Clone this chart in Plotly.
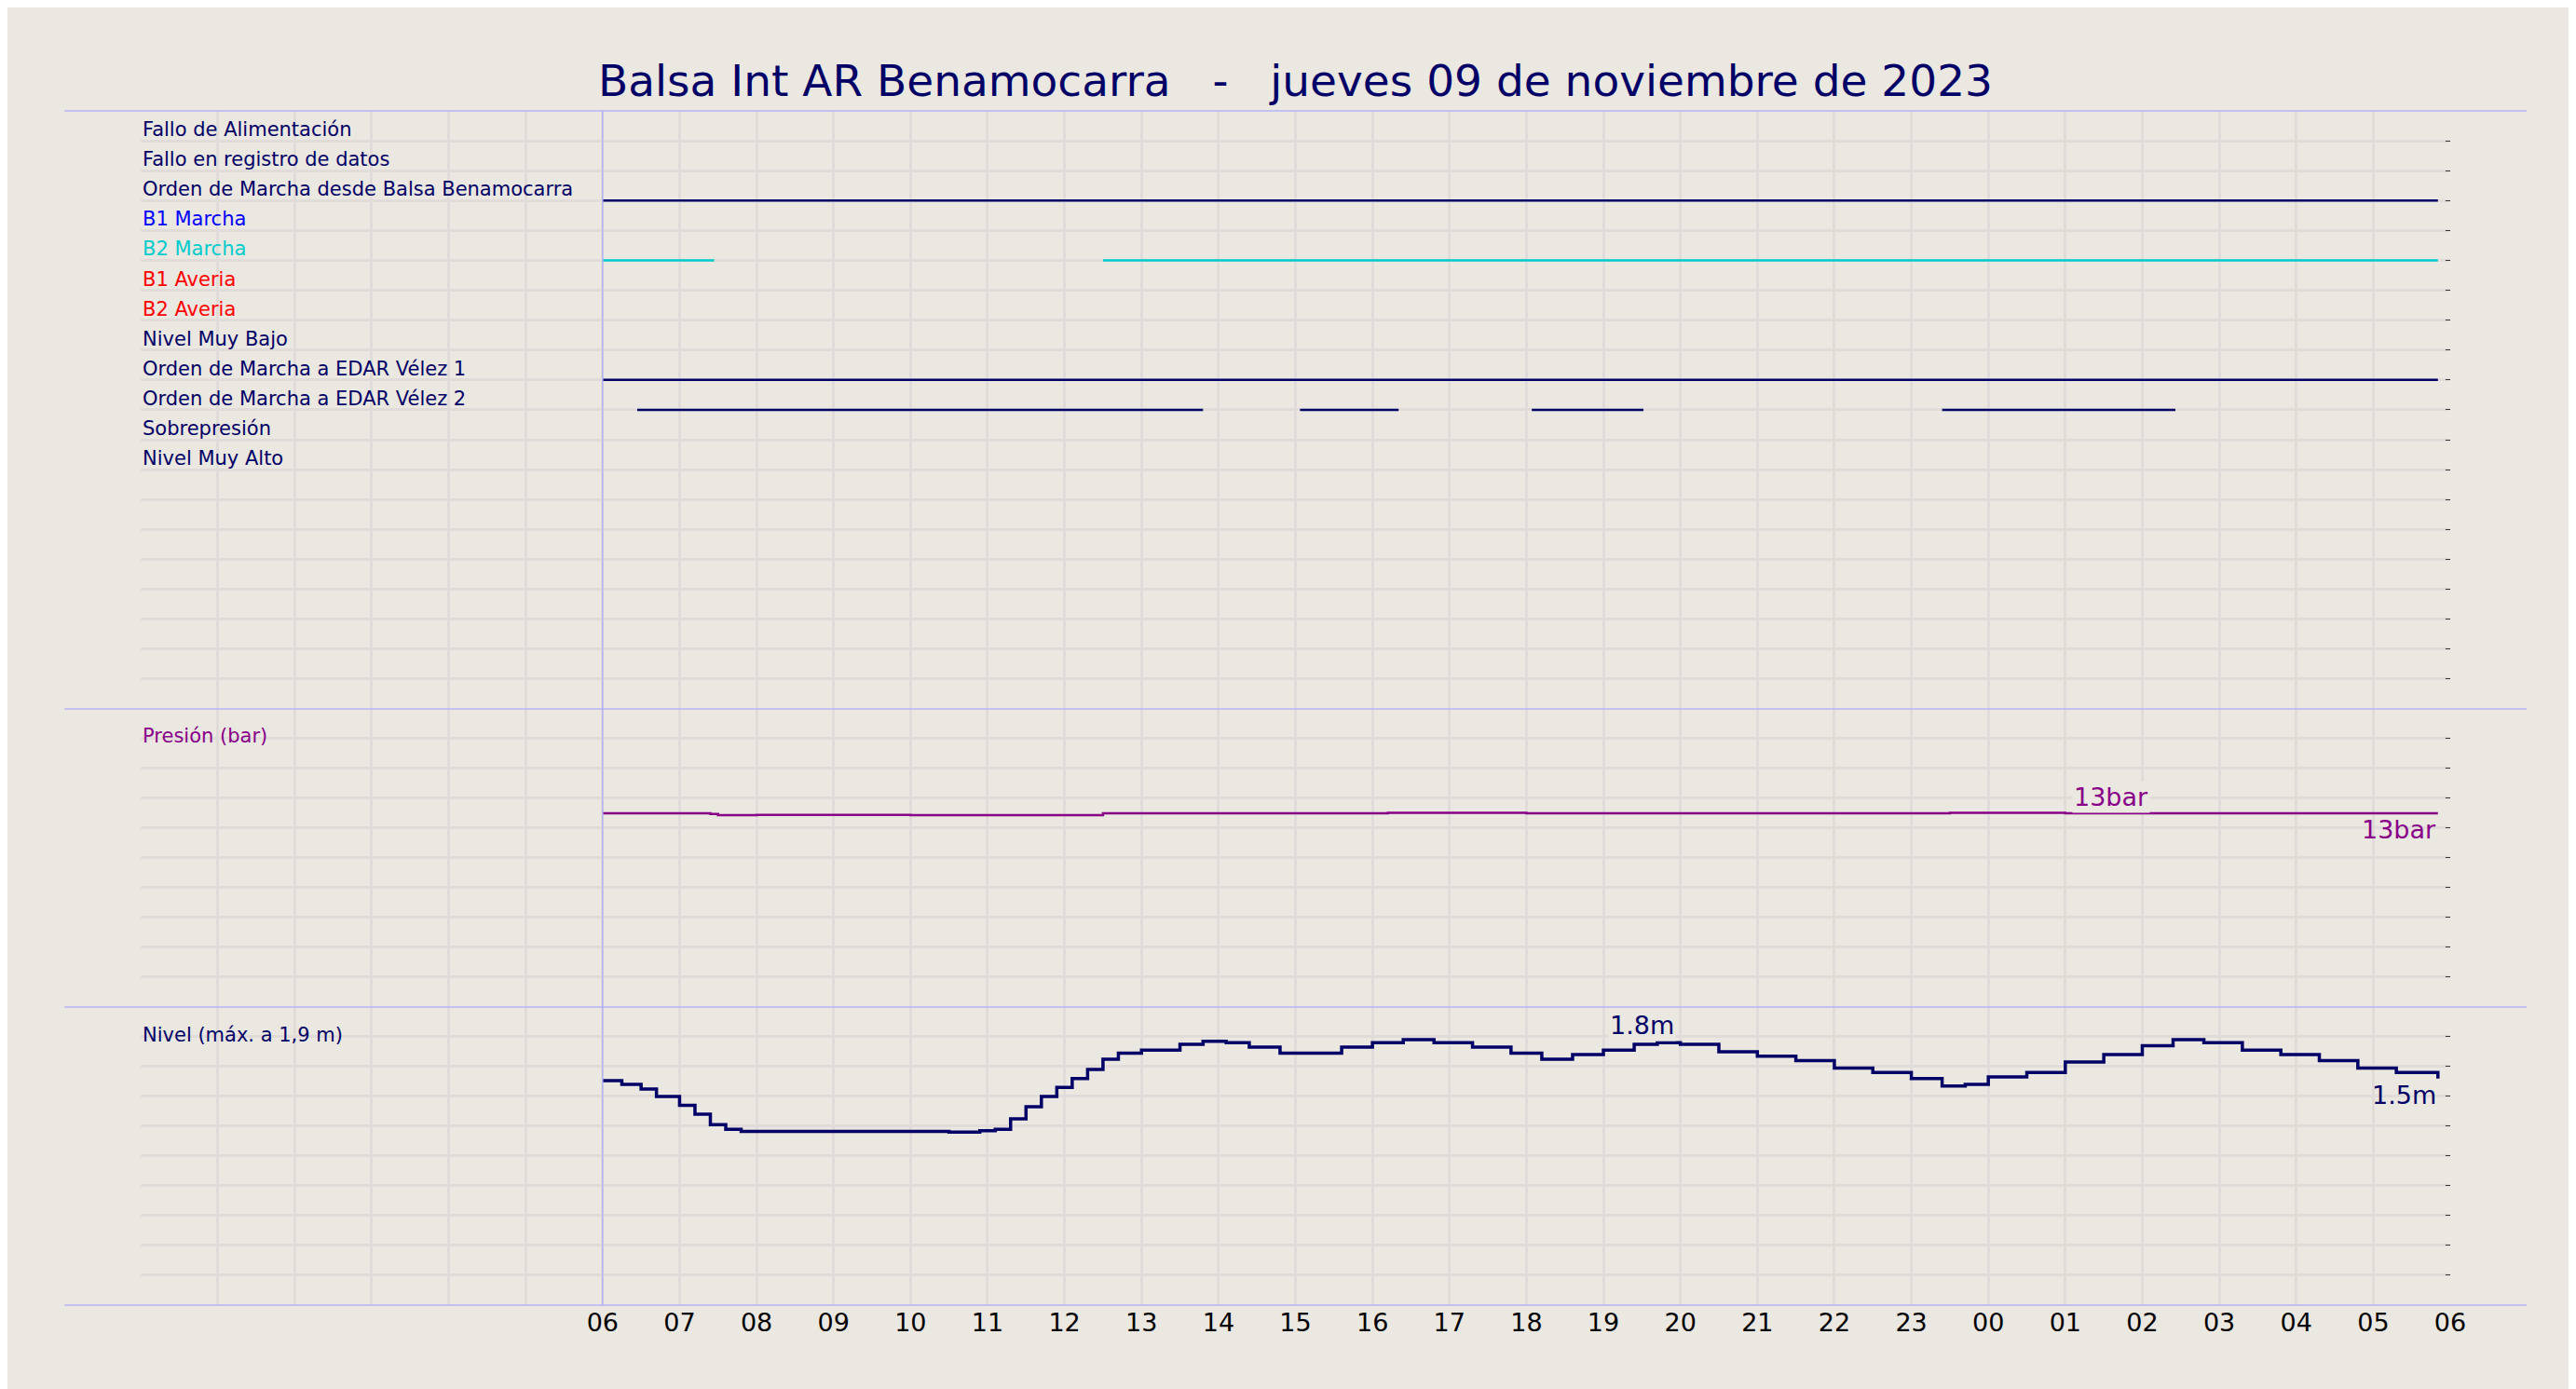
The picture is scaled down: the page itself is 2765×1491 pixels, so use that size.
import plotly.graph_objects as go

# hours since 06:00 of 09-nov-2023
hour_labels = ["06","07","08","09","10","11","12","13","14","15","16","17","18","19","20","21","22","23","00","01","02","03","04","05","06"]

state_names = ["Fallo de Alimentación","Fallo en registro de datos","Orden de Marcha desde Balsa Benamocarra",
               "B1 Marcha","B2 Marcha","B1 Averia","B2 Averia","Nivel Muy Bajo",
               "Orden de Marcha a EDAR Vélez 1","Orden de Marcha a EDAR Vélez 2","Sobrepresión","Nivel Muy Alto"]
state_colors = ["#000066","#000066","#000066","#0000ff","#00cccc","#ff0000","#ff0000","#000066",
                "#000066","#000066","#000066","#000066"]
# active intervals (start, end) in hours since 06:00
state_on = {
    2: [(0.0, 23.84)],
    4: [(0.0, 1.45), (6.5, 23.84)],
    8: [(0.0, 23.84)],
    9: [(0.45, 7.8), (9.06, 10.34), (12.07, 13.52), (17.4, 20.43)],
}

pres_t = [0.0, 1.4, 1.5, 2.0, 3.0, 4.0, 5.0, 6.5, 9.0, 10.2, 12.0, 16.0, 17.5, 19.0, 23.84]
pres_v = [13.0, 12.95, 12.87, 12.88, 12.88, 12.87, 12.87, 13.0, 13.0, 13.02, 12.99, 13.0, 13.02, 13.0, 13.0]

lvl_t = [0.0,0.25,0.5,0.7,1.0,1.2,1.4,1.6,1.8,2.0,4.5,4.9,5.1,5.3,5.5,5.7,5.9,6.1,6.3,6.5,6.7,7.0,7.5,7.8,
         8.1,8.4,8.8,9.2,9.6,10.0,10.4,10.8,11.3,11.8,12.2,12.6,13.0,13.4,13.7,14.0,14.5,15.0,15.5,16.0,
         16.5,17.0,17.4,17.7,18.0,18.5,19.0,19.5,20.0,20.4,20.8,21.3,21.8,22.3,22.8,23.3,23.84]
lvl_v = [1.505,1.48,1.45,1.40,1.34,1.28,1.21,1.18,1.165,1.165,1.16,1.17,1.18,1.25,1.33,1.40,1.46,1.52,1.58,1.65,1.69,1.71,1.75,1.77,
         1.76,1.73,1.69,1.69,1.73,1.76,1.78,1.76,1.73,1.69,1.65,1.68,1.71,1.75,1.76,1.75,1.70,1.67,1.64,1.59,
         1.56,1.52,1.47,1.48,1.53,1.56,1.63,1.68,1.74,1.78,1.76,1.71,1.68,1.64,1.59,1.56,1.52]

BG = "#ebe7e1"; GRID = "#e1dcda"; NAVY = "#000066"; PURPLE = "#880088"; SEP = "#b3b3f5"

fig = go.Figure()
for k, segs in state_on.items():
    for a, b in segs:
        fig.add_trace(go.Scatter(x=[a, b], y=[k + 1, k + 1], mode="lines", yaxis="y",
                                 line=dict(color=state_colors[k], width=2.5), hoverinfo="skip", showlegend=False))
fig.add_trace(go.Scatter(x=pres_t, y=pres_v, mode="lines", line_shape="hv", yaxis="y2",
                         line=dict(color=PURPLE, width=2.5), showlegend=False))
fig.add_trace(go.Scatter(x=lvl_t, y=lvl_v, mode="lines", line_shape="hv", yaxis="y3",
                         line=dict(color=NAVY, width=3.5), showlegend=False))

ann = []
for i, n in enumerate(state_names):
    ann.append(dict(x=-6, y=i + 1, xref="x", yref="y", text=n, showarrow=False, xanchor="left", yanchor="bottom",
                    font=dict(size=21, color=state_colors[i]), yshift=-2))
ann.append(dict(x=-6, y=18.2, xref="x", yref="y2", text="Presión (bar)", showarrow=False, xanchor="left",
                yanchor="middle", font=dict(size=21, color=PURPLE)))
ann.append(dict(x=-6, y=1.81, xref="x", yref="y3", text="Nivel (máx. a 1,9 m)", showarrow=False, xanchor="left",
                yanchor="middle", font=dict(size=21, color=NAVY)))
ann.append(dict(x=19.6, y=13.0, xref="x", yref="y2", text="13bar", showarrow=False, yanchor="bottom",
                font=dict(size=27, color=PURPLE), bgcolor=BG))
ann.append(dict(x=23.84, y=13.0, xref="x", yref="y2", text="13bar", showarrow=False, xanchor="right", yanchor="top",
                font=dict(size=27, color=PURPLE)))
ann.append(dict(x=13.5, y=1.765, xref="x", yref="y3", text="1.8m", showarrow=False, yanchor="bottom",
                font=dict(size=27, color=NAVY), bgcolor=BG))
ann.append(dict(x=23.84, y=1.52, xref="x", yref="y3", text="1.5m", showarrow=False, xanchor="right", yanchor="top",
                font=dict(size=27, color=NAVY)))

d1, d2 = 0.2497, 0.4993
shapes = []
for yy in [0, d1, d2, 1]:
    shapes.append(dict(type="line", xref="paper", yref="paper", x0=-0.033, x1=1.033, y0=yy, y1=yy,
                       line=dict(color=SEP, width=1.5)))
shapes.append(dict(type="line", xref="x", yref="paper", x0=0, x1=0, y0=0, y1=1, line=dict(color=SEP, width=1.5)))

yax = dict(showticklabels=False, gridcolor=GRID, gridwidth=3, zeroline=False, ticks="inside", ticklen=5,
           side="right", tickcolor="#333", showline=False)
fig.update_layout(
    width=2765, height=1491, paper_bgcolor=BG, plot_bgcolor=BG,
    margin=dict(l=143, r=143, t=111, b=98),
    title=dict(text="Balsa Int AR Benamocarra   -   jueves 09 de noviembre de 2023", x=0.5, xanchor="center",
               y=0.947, yanchor="middle", font=dict(size=47, color=NAVY, family="DejaVu Sans")),
    font=dict(family="DejaVu Sans"),
    xaxis=dict(anchor="y3", range=[-6, 24], tickvals=list(range(-6, 25)), ticktext=[""] * 6 + hour_labels,
               gridcolor=GRID, gridwidth=3, zeroline=False, showline=False,
               tickfont=dict(size=27, color="black"), ticks=""),
    yaxis=dict(domain=[d2, 1], range=[20, 0], dtick=1, **yax),
    yaxis2=dict(domain=[d1, d2], range=[0, 20], dtick=2, **yax),
    yaxis3=dict(domain=[0, d1], range=[0, 2], dtick=0.2, **yax),
    annotations=ann, shapes=shapes,
)
fig.write_html("out.html")
